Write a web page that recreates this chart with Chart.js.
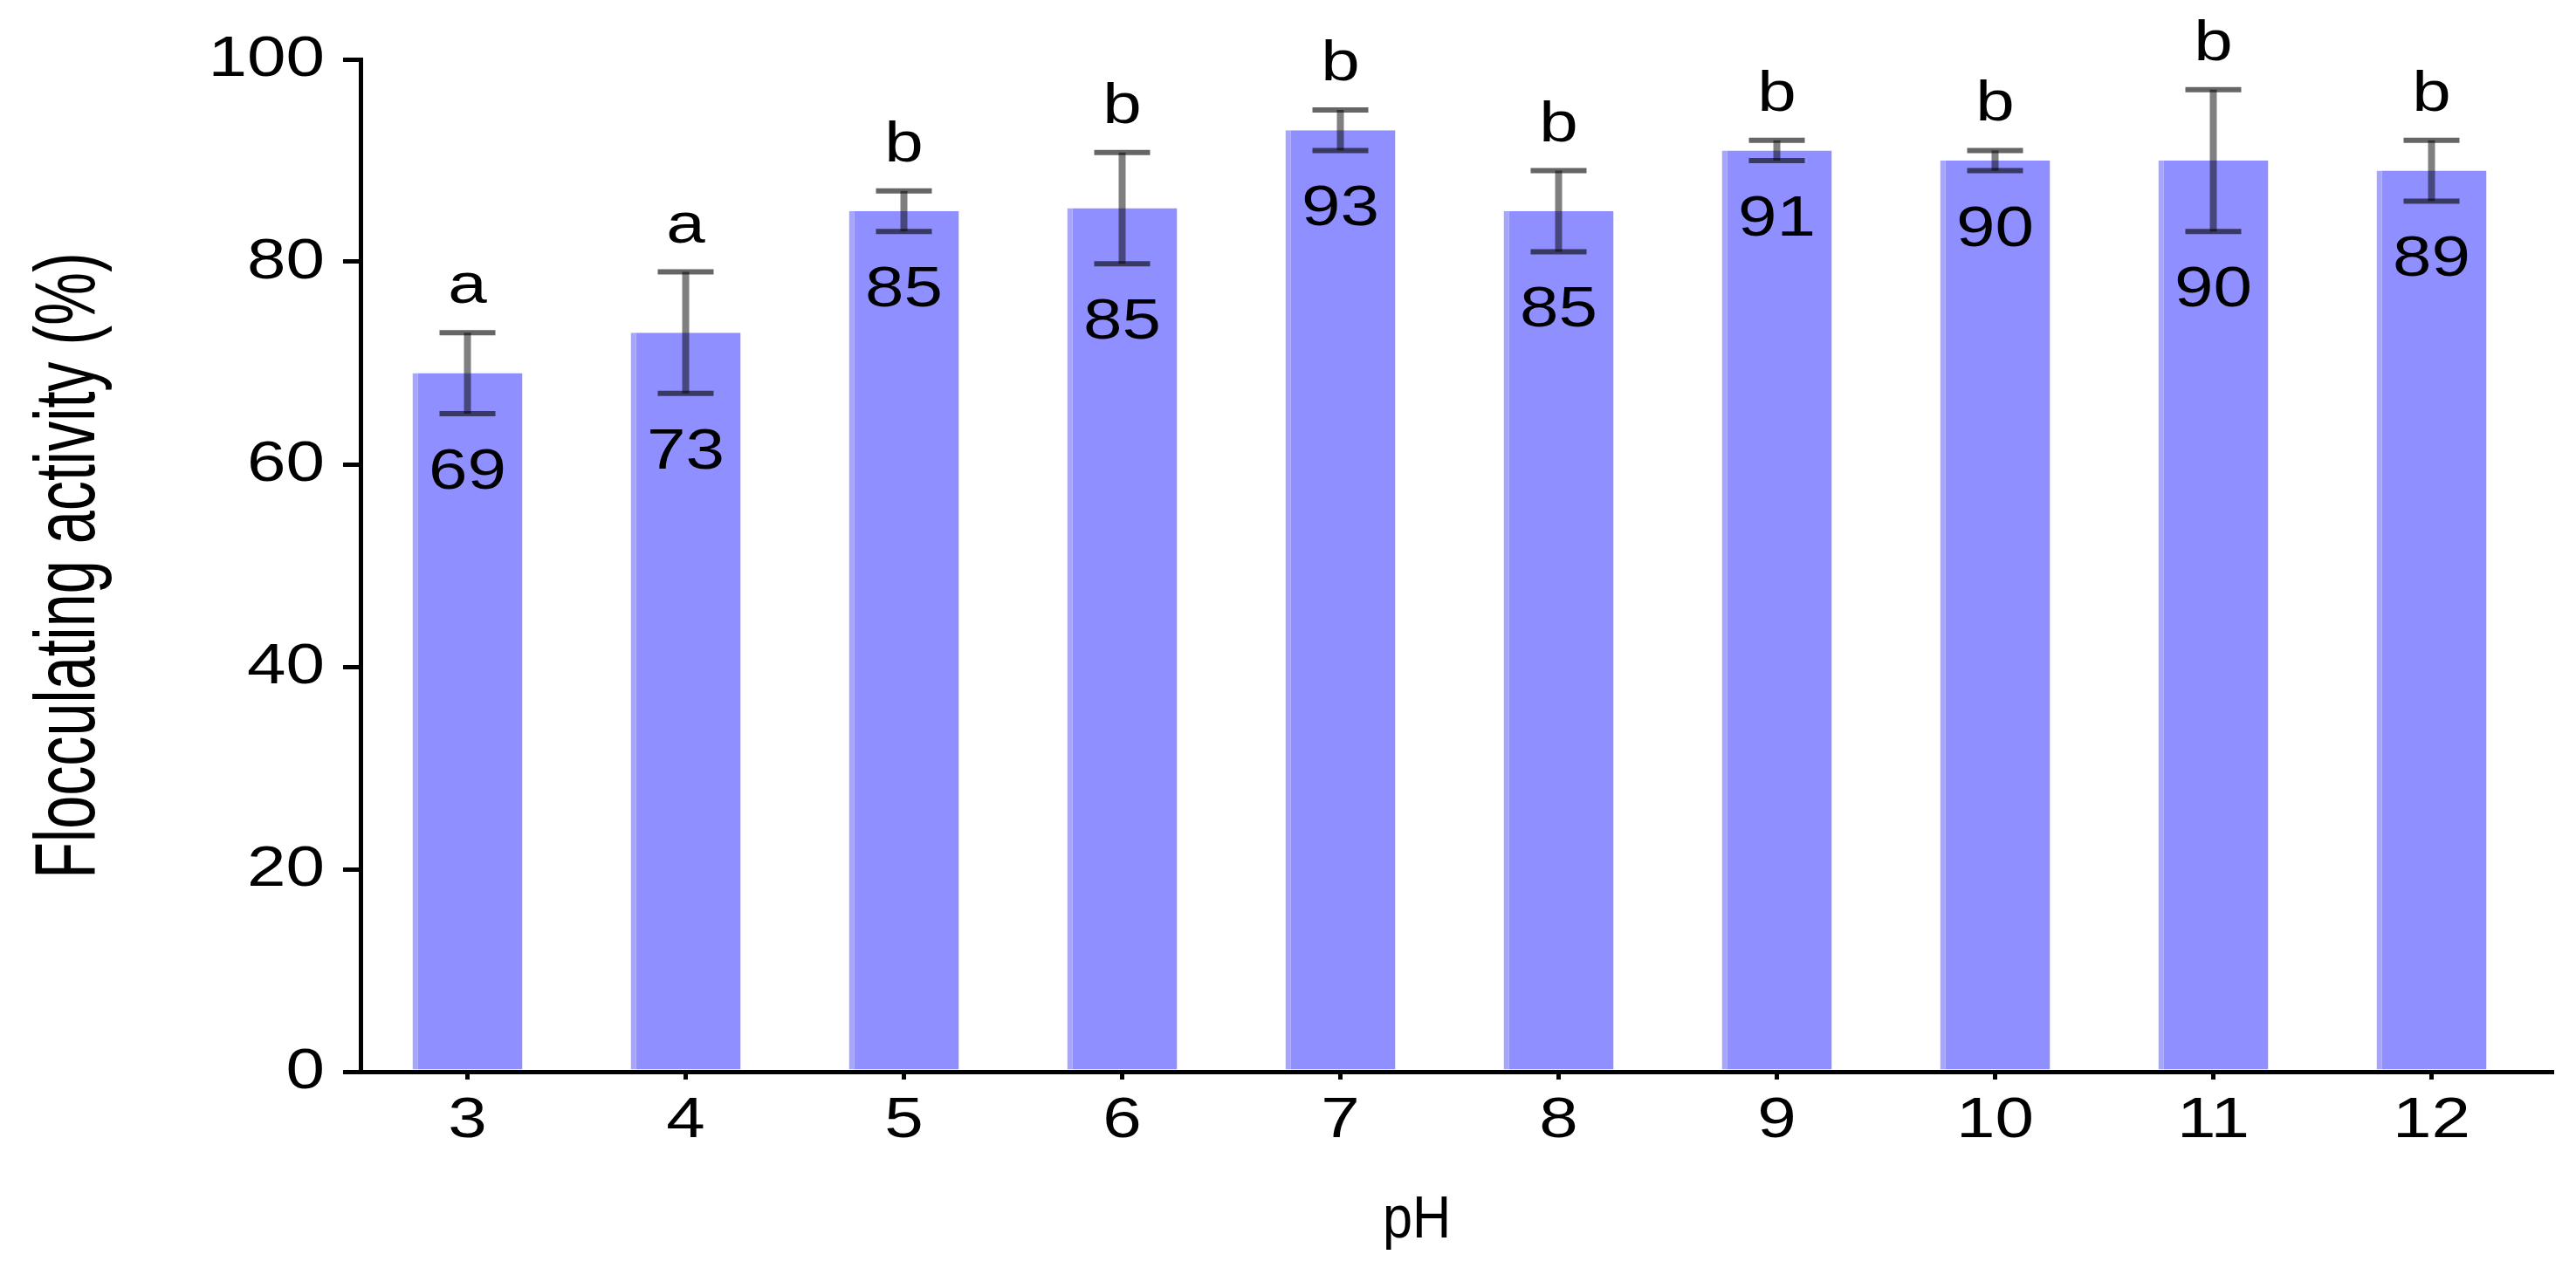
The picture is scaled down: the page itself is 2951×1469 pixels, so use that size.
<!DOCTYPE html>
<html lang="en">
<head>
    <meta charset="UTF-8">
    <title>Flocculating activity vs pH</title>
    <script src="https://cdn.jsdelivr.net/npm/chart.js"></script>
    <style>
        body {
            margin: 0;
            background: #fff;
        }

        #wrap {
            width: 2951px;
            height: 1469px;
        }
    </style>
</head>
<body>
    <div id="wrap"><canvas id="chart" width="2951" height="1469"></canvas></div>
    <script>
        // data
        const phLevels = [3, 4, 5, 6, 7, 8, 9, 10, 11, 12];
        const activity = [69, 73, 85, 85.3, 93, 85, 91, 90, 90, 89];
        const activityErr = [4, 6, 2, 5.5, 2, 4, 1, 1, 7, 3];
        const groupLetters = ['a', 'a', 'b', 'b', 'b', 'b', 'b', 'b', 'b', 'b'];
        const yTicks = [0, 20, 40, 60, 80, 100];

        const FONT = '"Liberation Sans", Arial, sans-serif';

        // the source figure has its small text stretched sideways and the y title squeezed
        function stretchText(ctx, text, x, y, size, sx, align) {
            ctx.save();
            ctx.translate(x, y);
            ctx.scale(sx, 1);
            ctx.font = size + 'px ' + FONT;
            ctx.textAlign = align;
            ctx.textBaseline = 'alphabetic';
            ctx.fillText(text, 0, 0);
            ctx.restore();
        }

        const annotate = {
            id: 'annotate',
            afterDatasetsDraw(chart) {
                const { ctx, scales: { x, y } } = chart;
                ctx.save();
                phLevels.forEach((ph, i) => {
                    const cx = x.getPixelForValue(ph);
                    const top = y.getPixelForValue(activity[i] + activityErr[i]);
                    const bot = y.getPixelForValue(activity[i] - activityErr[i]);

                    // error bar
                    ctx.strokeStyle = 'rgba(0, 0, 0, 0.5)';
                    ctx.lineWidth = 8;
                    ctx.beginPath();
                    ctx.moveTo(cx, top);
                    ctx.lineTo(cx, bot);
                    ctx.stroke();

                    ctx.strokeStyle = 'rgba(0, 0, 0, 0.6)';
                    ctx.lineWidth = 6;
                    ctx.beginPath();
                    ctx.moveTo(cx - 32, top);
                    ctx.lineTo(cx + 32, top);
                    ctx.moveTo(cx - 32, bot);
                    ctx.lineTo(cx + 32, bot);
                    ctx.stroke();

                    ctx.fillStyle = '#000';
                    stretchText(ctx, groupLetters[i], cx, top - 34, 64, 1.25, 'center');
                    stretchText(ctx, String(Math.round(activity[i])), cx, bot + 86, 64, 1.25, 'center');
                });
                ctx.restore();
            },
            afterDraw(chart) {
                const { ctx, chartArea, scales: { x, y } } = chart;
                ctx.save();
                ctx.fillStyle = '#000';

                // tick labels
                y.ticks.forEach(t => {
                    stretchText(ctx, String(t.value), y.right - 41, y.getPixelForValue(t.value) + 19, 64, 1.25, 'right');
                });
                x.ticks.forEach(t => {
                    stretchText(ctx, String(t.value), x.getPixelForValue(t.value), x.top + 75, 64, 1.25, 'center');
                });

                // axis titles
                ctx.save();
                ctx.translate(108, (chartArea.top + chartArea.bottom) / 2);
                ctx.rotate(-Math.PI / 2);
                stretchText(ctx, 'Flocculating activity (%)', 0, 0, 99, 0.69, 'center');
                ctx.restore();

                stretchText(ctx, 'pH', 1623, 1418, 68, 0.9, 'center');

                ctx.restore();
            }
        };

        new Chart(document.getElementById('chart'), {
            type: 'bar',
            data: {
                datasets: [{
                    data: phLevels.map((ph, i) => ({ x: ph, y: activity[i] })),
                    backgroundColor: '#8f8fff',
                    borderColor: '#a6a6ff',
                    borderWidth: { left: 6, top: 0, right: 0, bottom: 0 },
                    borderSkipped: false,
                    categoryPercentage: 1,
                    barPercentage: 0.504
                }]
            },
            options: {
                responsive: false,
                devicePixelRatio: 1,
                animation: false,
                layout: {
                    padding: { top: 68, right: 28, left: 0, bottom: 0 }
                },
                plugins: {
                    legend: { display: false },
                    tooltip: { enabled: false }
                },
                scales: {
                    x: {
                        type: 'linear',
                        offset: false,
                        min: 2.51,
                        max: 12.55,
                        afterBuildTicks: s => { s.ticks = phLevels.map(v => ({ value: v })); },
                        afterFit: s => { s.height = 241; },
                        grid: {
                            offset: false,
                            drawOnChartArea: false,
                            drawTicks: true,
                            tickLength: 9,
                            color: '#000',
                            lineWidth: 5
                        },
                        border: { display: true, color: '#000', width: 5 },
                        ticks: { display: false }
                    },
                    y: {
                        min: 0,
                        max: 100,
                        afterBuildTicks: s => { s.ticks = yTicks.map(v => ({ value: v })); },
                        afterFit: s => { s.width = 413; },
                        grid: {
                            drawOnChartArea: false,
                            drawTicks: true,
                            tickLength: 20,
                            color: '#000',
                            lineWidth: 5
                        },
                        border: { display: true, color: '#000', width: 5 },
                        ticks: { display: false }
                    }
                }
            },
            plugins: [annotate]
        });
    </script>
</body>
</html>
